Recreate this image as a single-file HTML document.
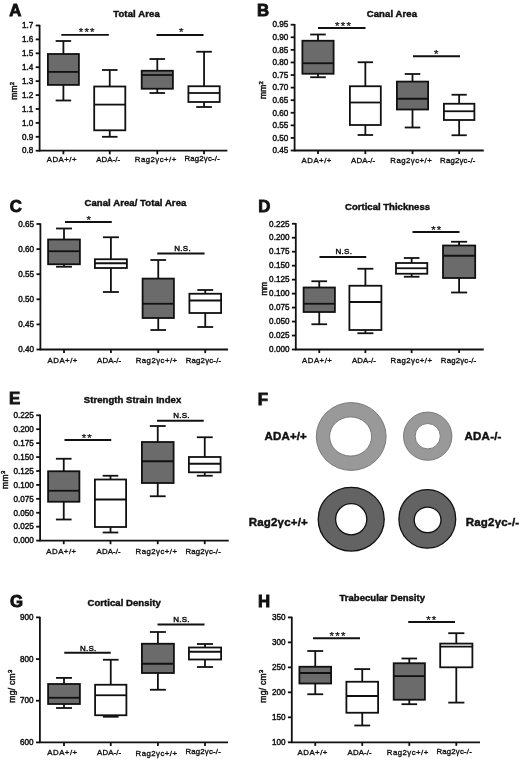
<!DOCTYPE html>
<html lang="en"><head><meta charset="utf-8"><title>Figure</title>
<style>
html,body{margin:0;padding:0;background:#fff;}
svg{display:block;filter:blur(0.4px);font-family:"Liberation Sans","DejaVu Sans",sans-serif;fill:#111;}
</style></head><body>
<svg width="520" height="761" viewBox="0 0 520 761">
<rect width="520" height="761" fill="#fff"/>
<line x1="39.60" y1="24.80" x2="39.60" y2="151.40" stroke="#111" stroke-width="1.8"/>
<line x1="38.90" y1="150.70" x2="227.40" y2="150.70" stroke="#111" stroke-width="1.8"/>
<line x1="35.70" y1="25.50" x2="39.60" y2="25.50" stroke="#111" stroke-width="1.8"/>
<text x="33.30" y="28.25" font-size="8.6" text-anchor="end" textLength="11.33" stroke="#111" stroke-width="0.45" lengthAdjust="spacingAndGlyphs">1.7</text>
<line x1="35.70" y1="39.41" x2="39.60" y2="39.41" stroke="#111" stroke-width="1.8"/>
<text x="33.30" y="42.16" font-size="8.6" text-anchor="end" textLength="11.33" stroke="#111" stroke-width="0.45" lengthAdjust="spacingAndGlyphs">1.6</text>
<line x1="35.70" y1="53.32" x2="39.60" y2="53.32" stroke="#111" stroke-width="1.8"/>
<text x="33.30" y="56.07" font-size="8.6" text-anchor="end" textLength="11.33" stroke="#111" stroke-width="0.45" lengthAdjust="spacingAndGlyphs">1.5</text>
<line x1="35.70" y1="67.23" x2="39.60" y2="67.23" stroke="#111" stroke-width="1.8"/>
<text x="33.30" y="69.98" font-size="8.6" text-anchor="end" textLength="11.33" stroke="#111" stroke-width="0.45" lengthAdjust="spacingAndGlyphs">1.4</text>
<line x1="35.70" y1="81.14" x2="39.60" y2="81.14" stroke="#111" stroke-width="1.8"/>
<text x="33.30" y="83.89" font-size="8.6" text-anchor="end" textLength="11.33" stroke="#111" stroke-width="0.45" lengthAdjust="spacingAndGlyphs">1.3</text>
<line x1="35.70" y1="95.06" x2="39.60" y2="95.06" stroke="#111" stroke-width="1.8"/>
<text x="33.30" y="97.81" font-size="8.6" text-anchor="end" textLength="11.33" stroke="#111" stroke-width="0.45" lengthAdjust="spacingAndGlyphs">1.2</text>
<line x1="35.70" y1="108.97" x2="39.60" y2="108.97" stroke="#111" stroke-width="1.8"/>
<text x="33.30" y="111.72" font-size="8.6" text-anchor="end" textLength="11.33" stroke="#111" stroke-width="0.45" lengthAdjust="spacingAndGlyphs">1.1</text>
<line x1="35.70" y1="122.88" x2="39.60" y2="122.88" stroke="#111" stroke-width="1.8"/>
<text x="33.30" y="125.63" font-size="8.6" text-anchor="end" textLength="11.33" stroke="#111" stroke-width="0.45" lengthAdjust="spacingAndGlyphs">1.0</text>
<line x1="35.70" y1="136.79" x2="39.60" y2="136.79" stroke="#111" stroke-width="1.8"/>
<text x="33.30" y="139.54" font-size="8.6" text-anchor="end" textLength="11.33" stroke="#111" stroke-width="0.45" lengthAdjust="spacingAndGlyphs">0.9</text>
<line x1="35.70" y1="150.70" x2="39.60" y2="150.70" stroke="#111" stroke-width="1.8"/>
<text x="33.30" y="153.45" font-size="8.6" text-anchor="end" textLength="11.33" stroke="#111" stroke-width="0.45" lengthAdjust="spacingAndGlyphs">0.8</text>
<text x="9.30" y="16.00" font-size="16.8" text-anchor="start" font-weight="bold" stroke="#111" stroke-width="0.9">A</text>
<text x="136.45" y="16.70" font-size="9.5" text-anchor="middle" font-weight="bold" textLength="46.5" lengthAdjust="spacing" stroke="#111" stroke-width="0.45">Total Area</text>
<line x1="63.40" y1="41.00" x2="63.40" y2="54.00" stroke="#111" stroke-width="1.8"/>
<line x1="63.40" y1="84.90" x2="63.40" y2="100.50" stroke="#111" stroke-width="1.8"/>
<line x1="55.65" y1="41.00" x2="71.15" y2="41.00" stroke="#111" stroke-width="1.8"/>
<line x1="55.65" y1="100.50" x2="71.15" y2="100.50" stroke="#111" stroke-width="1.8"/>
<rect x="47.90" y="54.00" width="31.00" height="30.90" fill="#6b6b6b" stroke="#111" stroke-width="1.8"/>
<line x1="47.90" y1="71.90" x2="78.90" y2="71.90" stroke="#111" stroke-width="1.8"/>
<line x1="63.40" y1="150.70" x2="63.40" y2="154.30" stroke="#111" stroke-width="1.8"/>
<line x1="109.75" y1="70.00" x2="109.75" y2="86.50" stroke="#111" stroke-width="1.8"/>
<line x1="109.75" y1="130.30" x2="109.75" y2="136.80" stroke="#111" stroke-width="1.8"/>
<line x1="101.97" y1="70.00" x2="117.53" y2="70.00" stroke="#111" stroke-width="1.8"/>
<line x1="101.97" y1="136.80" x2="117.53" y2="136.80" stroke="#111" stroke-width="1.8"/>
<rect x="94.20" y="86.50" width="31.10" height="43.80" fill="#fff" stroke="#111" stroke-width="1.8"/>
<line x1="94.20" y1="104.60" x2="125.30" y2="104.60" stroke="#111" stroke-width="1.8"/>
<line x1="109.75" y1="150.70" x2="109.75" y2="154.30" stroke="#111" stroke-width="1.8"/>
<line x1="157.30" y1="59.00" x2="157.30" y2="70.75" stroke="#111" stroke-width="1.8"/>
<line x1="157.30" y1="88.75" x2="157.30" y2="93.00" stroke="#111" stroke-width="1.8"/>
<line x1="149.50" y1="59.00" x2="165.10" y2="59.00" stroke="#111" stroke-width="1.8"/>
<line x1="149.50" y1="93.00" x2="165.10" y2="93.00" stroke="#111" stroke-width="1.8"/>
<rect x="141.70" y="70.75" width="31.20" height="18.00" fill="#6b6b6b" stroke="#111" stroke-width="1.8"/>
<line x1="141.70" y1="75.00" x2="172.90" y2="75.00" stroke="#111" stroke-width="1.8"/>
<line x1="157.30" y1="150.70" x2="157.30" y2="154.30" stroke="#111" stroke-width="1.8"/>
<line x1="204.05" y1="51.75" x2="204.05" y2="86.25" stroke="#111" stroke-width="1.8"/>
<line x1="204.05" y1="102.00" x2="204.05" y2="107.00" stroke="#111" stroke-width="1.8"/>
<line x1="196.23" y1="51.75" x2="211.88" y2="51.75" stroke="#111" stroke-width="1.8"/>
<line x1="196.23" y1="107.00" x2="211.88" y2="107.00" stroke="#111" stroke-width="1.8"/>
<rect x="188.40" y="86.25" width="31.30" height="15.75" fill="#fff" stroke="#111" stroke-width="1.8"/>
<line x1="188.40" y1="93.00" x2="219.70" y2="93.00" stroke="#111" stroke-width="1.8"/>
<line x1="204.05" y1="150.70" x2="204.05" y2="154.30" stroke="#111" stroke-width="1.8"/>
<line x1="61.30" y1="34.90" x2="108.90" y2="34.90" stroke="#111" stroke-width="1.9"/>
<text x="86.65" y="36.05" font-size="11.5" text-anchor="middle" textLength="15.9" lengthAdjust="spacing" stroke="#111" stroke-width="0.25">***</text>
<line x1="156.50" y1="35.00" x2="203.50" y2="35.00" stroke="#111" stroke-width="1.9"/>
<text x="181.25" y="36.20" font-size="11.5" text-anchor="middle" stroke="#111" stroke-width="0.25">*</text>
<text x="61.60" y="161.60" font-size="7.8" text-anchor="middle" textLength="29.8" lengthAdjust="spacing" stroke="#111" stroke-width="0.35">ADA+/+</text>
<text x="108.20" y="161.60" font-size="7.8" text-anchor="middle" textLength="24.0" lengthAdjust="spacing" stroke="#111" stroke-width="0.35">ADA-/-</text>
<text x="155.50" y="161.80" font-size="7.8" text-anchor="middle" textLength="41.4" lengthAdjust="spacing" stroke="#111" stroke-width="0.35">Rag2γc+/+</text>
<text x="202.10" y="161.20" font-size="7.8" text-anchor="middle" textLength="35.4" lengthAdjust="spacing" stroke="#111" stroke-width="0.35">Rag2γc-/-</text>
<text x="16.90" y="90.80" font-size="8.5" text-anchor="middle" transform="rotate(-90 16.90 90.80)" textLength="17.9" lengthAdjust="spacing" stroke="#111" stroke-width="0.45">mm<tspan font-size="6" dy="-3.2">2</tspan></text>
<line x1="294.60" y1="24.00" x2="294.60" y2="151.20" stroke="#111" stroke-width="1.8"/>
<line x1="293.90" y1="150.50" x2="483.75" y2="150.50" stroke="#111" stroke-width="1.8"/>
<line x1="290.70" y1="24.70" x2="294.60" y2="24.70" stroke="#111" stroke-width="1.8"/>
<text x="288.30" y="27.45" font-size="8.6" text-anchor="end" textLength="15.86" stroke="#111" stroke-width="0.45" lengthAdjust="spacingAndGlyphs">0.95</text>
<line x1="290.70" y1="37.28" x2="294.60" y2="37.28" stroke="#111" stroke-width="1.8"/>
<text x="288.30" y="40.03" font-size="8.6" text-anchor="end" textLength="15.86" stroke="#111" stroke-width="0.45" lengthAdjust="spacingAndGlyphs">0.90</text>
<line x1="290.70" y1="49.86" x2="294.60" y2="49.86" stroke="#111" stroke-width="1.8"/>
<text x="288.30" y="52.61" font-size="8.6" text-anchor="end" textLength="15.86" stroke="#111" stroke-width="0.45" lengthAdjust="spacingAndGlyphs">0.85</text>
<line x1="290.70" y1="62.44" x2="294.60" y2="62.44" stroke="#111" stroke-width="1.8"/>
<text x="288.30" y="65.19" font-size="8.6" text-anchor="end" textLength="15.86" stroke="#111" stroke-width="0.45" lengthAdjust="spacingAndGlyphs">0.80</text>
<line x1="290.70" y1="75.02" x2="294.60" y2="75.02" stroke="#111" stroke-width="1.8"/>
<text x="288.30" y="77.77" font-size="8.6" text-anchor="end" textLength="15.86" stroke="#111" stroke-width="0.45" lengthAdjust="spacingAndGlyphs">0.75</text>
<line x1="290.70" y1="87.60" x2="294.60" y2="87.60" stroke="#111" stroke-width="1.8"/>
<text x="288.30" y="90.35" font-size="8.6" text-anchor="end" textLength="15.86" stroke="#111" stroke-width="0.45" lengthAdjust="spacingAndGlyphs">0.70</text>
<line x1="290.70" y1="100.18" x2="294.60" y2="100.18" stroke="#111" stroke-width="1.8"/>
<text x="288.30" y="102.93" font-size="8.6" text-anchor="end" textLength="15.86" stroke="#111" stroke-width="0.45" lengthAdjust="spacingAndGlyphs">0.65</text>
<line x1="290.70" y1="112.76" x2="294.60" y2="112.76" stroke="#111" stroke-width="1.8"/>
<text x="288.30" y="115.51" font-size="8.6" text-anchor="end" textLength="15.86" stroke="#111" stroke-width="0.45" lengthAdjust="spacingAndGlyphs">0.60</text>
<line x1="290.70" y1="125.34" x2="294.60" y2="125.34" stroke="#111" stroke-width="1.8"/>
<text x="288.30" y="128.09" font-size="8.6" text-anchor="end" textLength="15.86" stroke="#111" stroke-width="0.45" lengthAdjust="spacingAndGlyphs">0.55</text>
<line x1="290.70" y1="137.92" x2="294.60" y2="137.92" stroke="#111" stroke-width="1.8"/>
<text x="288.30" y="140.67" font-size="8.6" text-anchor="end" textLength="15.86" stroke="#111" stroke-width="0.45" lengthAdjust="spacingAndGlyphs">0.50</text>
<line x1="290.70" y1="150.50" x2="294.60" y2="150.50" stroke="#111" stroke-width="1.8"/>
<text x="288.30" y="153.25" font-size="8.6" text-anchor="end" textLength="15.86" stroke="#111" stroke-width="0.45" lengthAdjust="spacingAndGlyphs">0.45</text>
<text x="256.90" y="16.20" font-size="16.8" text-anchor="start" font-weight="bold" stroke="#111" stroke-width="0.9">B</text>
<text x="391.90" y="17.40" font-size="9.5" text-anchor="middle" font-weight="bold" textLength="50.3" lengthAdjust="spacing" stroke="#111" stroke-width="0.45">Canal Area</text>
<line x1="318.00" y1="34.50" x2="318.00" y2="40.75" stroke="#111" stroke-width="1.8"/>
<line x1="318.00" y1="73.75" x2="318.00" y2="77.25" stroke="#111" stroke-width="1.8"/>
<line x1="310.20" y1="34.50" x2="325.80" y2="34.50" stroke="#111" stroke-width="1.8"/>
<line x1="310.20" y1="77.25" x2="325.80" y2="77.25" stroke="#111" stroke-width="1.8"/>
<rect x="302.40" y="40.75" width="31.20" height="33.00" fill="#6b6b6b" stroke="#111" stroke-width="1.8"/>
<line x1="302.40" y1="63.25" x2="333.60" y2="63.25" stroke="#111" stroke-width="1.8"/>
<line x1="318.00" y1="150.50" x2="318.00" y2="154.10" stroke="#111" stroke-width="1.8"/>
<line x1="365.35" y1="62.25" x2="365.35" y2="86.25" stroke="#111" stroke-width="1.8"/>
<line x1="365.35" y1="125.00" x2="365.35" y2="135.00" stroke="#111" stroke-width="1.8"/>
<line x1="357.62" y1="62.25" x2="373.08" y2="62.25" stroke="#111" stroke-width="1.8"/>
<line x1="357.62" y1="135.00" x2="373.08" y2="135.00" stroke="#111" stroke-width="1.8"/>
<rect x="349.90" y="86.25" width="30.90" height="38.75" fill="#fff" stroke="#111" stroke-width="1.8"/>
<line x1="349.90" y1="102.50" x2="380.80" y2="102.50" stroke="#111" stroke-width="1.8"/>
<line x1="365.35" y1="150.50" x2="365.35" y2="154.10" stroke="#111" stroke-width="1.8"/>
<line x1="412.50" y1="74.00" x2="412.50" y2="81.60" stroke="#111" stroke-width="1.8"/>
<line x1="412.50" y1="109.50" x2="412.50" y2="127.50" stroke="#111" stroke-width="1.8"/>
<line x1="404.70" y1="74.00" x2="420.30" y2="74.00" stroke="#111" stroke-width="1.8"/>
<line x1="404.70" y1="127.50" x2="420.30" y2="127.50" stroke="#111" stroke-width="1.8"/>
<rect x="396.90" y="81.60" width="31.20" height="27.90" fill="#6b6b6b" stroke="#111" stroke-width="1.8"/>
<line x1="396.90" y1="98.75" x2="428.10" y2="98.75" stroke="#111" stroke-width="1.8"/>
<line x1="412.50" y1="150.50" x2="412.50" y2="154.10" stroke="#111" stroke-width="1.8"/>
<line x1="459.15" y1="94.75" x2="459.15" y2="103.75" stroke="#111" stroke-width="1.8"/>
<line x1="459.15" y1="120.00" x2="459.15" y2="135.25" stroke="#111" stroke-width="1.8"/>
<line x1="451.52" y1="94.75" x2="466.77" y2="94.75" stroke="#111" stroke-width="1.8"/>
<line x1="451.52" y1="135.25" x2="466.77" y2="135.25" stroke="#111" stroke-width="1.8"/>
<rect x="443.90" y="103.75" width="30.50" height="16.25" fill="#fff" stroke="#111" stroke-width="1.8"/>
<line x1="443.90" y1="111.25" x2="474.40" y2="111.25" stroke="#111" stroke-width="1.8"/>
<line x1="459.15" y1="150.50" x2="459.15" y2="154.10" stroke="#111" stroke-width="1.8"/>
<line x1="318.00" y1="28.00" x2="365.50" y2="28.00" stroke="#111" stroke-width="1.9"/>
<text x="343.00" y="29.60" font-size="11.5" text-anchor="middle" textLength="15.9" lengthAdjust="spacing" stroke="#111" stroke-width="0.25">***</text>
<line x1="413.00" y1="56.25" x2="460.00" y2="56.25" stroke="#111" stroke-width="1.9"/>
<text x="436.25" y="57.70" font-size="11.5" text-anchor="middle" stroke="#111" stroke-width="0.25">*</text>
<text x="316.50" y="163.00" font-size="7.8" text-anchor="middle" textLength="29.8" lengthAdjust="spacing" stroke="#111" stroke-width="0.35">ADA+/+</text>
<text x="363.10" y="163.00" font-size="7.8" text-anchor="middle" textLength="24.0" lengthAdjust="spacing" stroke="#111" stroke-width="0.35">ADA-/-</text>
<text x="411.00" y="163.00" font-size="7.8" text-anchor="middle" textLength="41.4" lengthAdjust="spacing" stroke="#111" stroke-width="0.35">Rag2γc+/+</text>
<text x="457.75" y="163.00" font-size="7.8" text-anchor="middle" textLength="35.4" lengthAdjust="spacing" stroke="#111" stroke-width="0.35">Rag2γc-/-</text>
<text x="266.20" y="90.00" font-size="8.5" text-anchor="middle" transform="rotate(-90 266.20 90.00)" textLength="17.9" lengthAdjust="spacing" stroke="#111" stroke-width="0.45">mm<tspan font-size="6" dy="-3.2">2</tspan></text>
<line x1="40.40" y1="223.30" x2="40.40" y2="350.20" stroke="#111" stroke-width="1.8"/>
<line x1="39.70" y1="349.50" x2="228.00" y2="349.50" stroke="#111" stroke-width="1.8"/>
<line x1="36.50" y1="224.00" x2="40.40" y2="224.00" stroke="#111" stroke-width="1.8"/>
<text x="34.10" y="226.75" font-size="8.6" text-anchor="end" textLength="15.86" stroke="#111" stroke-width="0.45" lengthAdjust="spacingAndGlyphs">0.65</text>
<line x1="36.50" y1="249.10" x2="40.40" y2="249.10" stroke="#111" stroke-width="1.8"/>
<text x="34.10" y="251.85" font-size="8.6" text-anchor="end" textLength="15.86" stroke="#111" stroke-width="0.45" lengthAdjust="spacingAndGlyphs">0.60</text>
<line x1="36.50" y1="274.20" x2="40.40" y2="274.20" stroke="#111" stroke-width="1.8"/>
<text x="34.10" y="276.95" font-size="8.6" text-anchor="end" textLength="15.86" stroke="#111" stroke-width="0.45" lengthAdjust="spacingAndGlyphs">0.55</text>
<line x1="36.50" y1="299.30" x2="40.40" y2="299.30" stroke="#111" stroke-width="1.8"/>
<text x="34.10" y="302.05" font-size="8.6" text-anchor="end" textLength="15.86" stroke="#111" stroke-width="0.45" lengthAdjust="spacingAndGlyphs">0.50</text>
<line x1="36.50" y1="324.40" x2="40.40" y2="324.40" stroke="#111" stroke-width="1.8"/>
<text x="34.10" y="327.15" font-size="8.6" text-anchor="end" textLength="15.86" stroke="#111" stroke-width="0.45" lengthAdjust="spacingAndGlyphs">0.45</text>
<line x1="36.50" y1="349.50" x2="40.40" y2="349.50" stroke="#111" stroke-width="1.8"/>
<text x="34.10" y="352.25" font-size="8.6" text-anchor="end" textLength="15.86" stroke="#111" stroke-width="0.45" lengthAdjust="spacingAndGlyphs">0.40</text>
<text x="9.70" y="211.80" font-size="16.8" text-anchor="start" font-weight="bold" stroke="#111" stroke-width="0.9">C</text>
<text x="135.40" y="205.60" font-size="9.5" text-anchor="middle" font-weight="bold" textLength="101.8" lengthAdjust="spacing" stroke="#111" stroke-width="0.45">Canal Area/ Total Area</text>
<line x1="64.00" y1="228.50" x2="64.00" y2="239.50" stroke="#111" stroke-width="1.8"/>
<line x1="64.00" y1="264.25" x2="64.00" y2="266.75" stroke="#111" stroke-width="1.8"/>
<line x1="56.05" y1="228.50" x2="71.95" y2="228.50" stroke="#111" stroke-width="1.8"/>
<line x1="56.05" y1="266.75" x2="71.95" y2="266.75" stroke="#111" stroke-width="1.8"/>
<rect x="48.10" y="239.50" width="31.80" height="24.75" fill="#6b6b6b" stroke="#111" stroke-width="1.8"/>
<line x1="48.10" y1="251.25" x2="79.90" y2="251.25" stroke="#111" stroke-width="1.8"/>
<line x1="64.00" y1="349.50" x2="64.00" y2="353.10" stroke="#111" stroke-width="1.8"/>
<line x1="110.90" y1="237.25" x2="110.90" y2="259.25" stroke="#111" stroke-width="1.8"/>
<line x1="110.90" y1="268.00" x2="110.90" y2="292.00" stroke="#111" stroke-width="1.8"/>
<line x1="102.90" y1="237.25" x2="118.90" y2="237.25" stroke="#111" stroke-width="1.8"/>
<line x1="102.90" y1="292.00" x2="118.90" y2="292.00" stroke="#111" stroke-width="1.8"/>
<rect x="94.90" y="259.25" width="32.00" height="8.75" fill="#fff" stroke="#111" stroke-width="1.8"/>
<line x1="94.90" y1="263.25" x2="126.90" y2="263.25" stroke="#111" stroke-width="1.8"/>
<line x1="110.90" y1="349.50" x2="110.90" y2="353.10" stroke="#111" stroke-width="1.8"/>
<line x1="158.25" y1="260.00" x2="158.25" y2="278.60" stroke="#111" stroke-width="1.8"/>
<line x1="158.25" y1="318.00" x2="158.25" y2="330.00" stroke="#111" stroke-width="1.8"/>
<line x1="150.43" y1="260.00" x2="166.07" y2="260.00" stroke="#111" stroke-width="1.8"/>
<line x1="150.43" y1="330.00" x2="166.07" y2="330.00" stroke="#111" stroke-width="1.8"/>
<rect x="142.60" y="278.60" width="31.30" height="39.40" fill="#6b6b6b" stroke="#111" stroke-width="1.8"/>
<line x1="142.60" y1="303.75" x2="173.90" y2="303.75" stroke="#111" stroke-width="1.8"/>
<line x1="158.25" y1="349.50" x2="158.25" y2="353.10" stroke="#111" stroke-width="1.8"/>
<line x1="205.25" y1="290.00" x2="205.25" y2="293.75" stroke="#111" stroke-width="1.8"/>
<line x1="205.25" y1="313.00" x2="205.25" y2="327.00" stroke="#111" stroke-width="1.8"/>
<line x1="197.32" y1="290.00" x2="213.18" y2="290.00" stroke="#111" stroke-width="1.8"/>
<line x1="197.32" y1="327.00" x2="213.18" y2="327.00" stroke="#111" stroke-width="1.8"/>
<rect x="189.40" y="293.75" width="31.70" height="19.25" fill="#fff" stroke="#111" stroke-width="1.8"/>
<line x1="189.40" y1="300.50" x2="221.10" y2="300.50" stroke="#111" stroke-width="1.8"/>
<line x1="205.25" y1="349.50" x2="205.25" y2="353.10" stroke="#111" stroke-width="1.8"/>
<line x1="65.00" y1="222.00" x2="111.75" y2="222.00" stroke="#111" stroke-width="1.9"/>
<text x="88.75" y="223.50" font-size="11.5" text-anchor="middle" stroke="#111" stroke-width="0.25">*</text>
<line x1="157.30" y1="253.50" x2="204.60" y2="253.50" stroke="#111" stroke-width="1.9"/>
<text x="182.50" y="250.70" font-size="8" text-anchor="middle" textLength="16.4" lengthAdjust="spacing" stroke="#111" stroke-width="0.45">N.S.</text>
<text x="62.50" y="362.50" font-size="7.8" text-anchor="middle" textLength="29.8" lengthAdjust="spacing" stroke="#111" stroke-width="0.35">ADA+/+</text>
<text x="109.10" y="362.50" font-size="7.8" text-anchor="middle" textLength="24.0" lengthAdjust="spacing" stroke="#111" stroke-width="0.35">ADA-/-</text>
<text x="156.40" y="362.80" font-size="7.8" text-anchor="middle" textLength="41.4" lengthAdjust="spacing" stroke="#111" stroke-width="0.35">Rag2γc+/+</text>
<text x="203.40" y="362.50" font-size="7.8" text-anchor="middle" textLength="35.4" lengthAdjust="spacing" stroke="#111" stroke-width="0.35">Rag2γc-/-</text>
<line x1="295.80" y1="223.05" x2="295.80" y2="350.20" stroke="#111" stroke-width="1.8"/>
<line x1="295.10" y1="349.50" x2="483.75" y2="349.50" stroke="#111" stroke-width="1.8"/>
<line x1="291.90" y1="223.75" x2="295.80" y2="223.75" stroke="#111" stroke-width="1.8"/>
<text x="289.50" y="226.50" font-size="8.6" text-anchor="end" textLength="20.39" stroke="#111" stroke-width="0.45" lengthAdjust="spacingAndGlyphs">0.225</text>
<line x1="291.90" y1="237.72" x2="295.80" y2="237.72" stroke="#111" stroke-width="1.8"/>
<text x="289.50" y="240.47" font-size="8.6" text-anchor="end" textLength="20.39" stroke="#111" stroke-width="0.45" lengthAdjust="spacingAndGlyphs">0.200</text>
<line x1="291.90" y1="251.69" x2="295.80" y2="251.69" stroke="#111" stroke-width="1.8"/>
<text x="289.50" y="254.44" font-size="8.6" text-anchor="end" textLength="20.39" stroke="#111" stroke-width="0.45" lengthAdjust="spacingAndGlyphs">0.175</text>
<line x1="291.90" y1="265.67" x2="295.80" y2="265.67" stroke="#111" stroke-width="1.8"/>
<text x="289.50" y="268.42" font-size="8.6" text-anchor="end" textLength="20.39" stroke="#111" stroke-width="0.45" lengthAdjust="spacingAndGlyphs">0.150</text>
<line x1="291.90" y1="279.64" x2="295.80" y2="279.64" stroke="#111" stroke-width="1.8"/>
<text x="289.50" y="282.39" font-size="8.6" text-anchor="end" textLength="20.39" stroke="#111" stroke-width="0.45" lengthAdjust="spacingAndGlyphs">0.125</text>
<line x1="291.90" y1="293.61" x2="295.80" y2="293.61" stroke="#111" stroke-width="1.8"/>
<text x="289.50" y="296.36" font-size="8.6" text-anchor="end" textLength="20.39" stroke="#111" stroke-width="0.45" lengthAdjust="spacingAndGlyphs">0.100</text>
<line x1="291.90" y1="307.58" x2="295.80" y2="307.58" stroke="#111" stroke-width="1.8"/>
<text x="289.50" y="310.33" font-size="8.6" text-anchor="end" textLength="20.39" stroke="#111" stroke-width="0.45" lengthAdjust="spacingAndGlyphs">0.075</text>
<line x1="291.90" y1="321.56" x2="295.80" y2="321.56" stroke="#111" stroke-width="1.8"/>
<text x="289.50" y="324.31" font-size="8.6" text-anchor="end" textLength="20.39" stroke="#111" stroke-width="0.45" lengthAdjust="spacingAndGlyphs">0.050</text>
<line x1="291.90" y1="335.53" x2="295.80" y2="335.53" stroke="#111" stroke-width="1.8"/>
<text x="289.50" y="338.28" font-size="8.6" text-anchor="end" textLength="20.39" stroke="#111" stroke-width="0.45" lengthAdjust="spacingAndGlyphs">0.025</text>
<line x1="291.90" y1="349.50" x2="295.80" y2="349.50" stroke="#111" stroke-width="1.8"/>
<text x="289.50" y="352.25" font-size="8.6" text-anchor="end" textLength="20.39" stroke="#111" stroke-width="0.45" lengthAdjust="spacingAndGlyphs">0.000</text>
<text x="258.20" y="212.00" font-size="16.8" text-anchor="start" font-weight="bold" stroke="#111" stroke-width="0.9">D</text>
<text x="387.50" y="210.00" font-size="9.5" text-anchor="middle" font-weight="bold" textLength="85" lengthAdjust="spacing" stroke="#111" stroke-width="0.45">Cortical Thickness</text>
<line x1="319.25" y1="281.25" x2="319.25" y2="287.50" stroke="#111" stroke-width="1.8"/>
<line x1="319.25" y1="312.00" x2="319.25" y2="324.25" stroke="#111" stroke-width="1.8"/>
<line x1="311.43" y1="281.25" x2="327.07" y2="281.25" stroke="#111" stroke-width="1.8"/>
<line x1="311.43" y1="324.25" x2="327.07" y2="324.25" stroke="#111" stroke-width="1.8"/>
<rect x="303.60" y="287.50" width="31.30" height="24.50" fill="#6b6b6b" stroke="#111" stroke-width="1.8"/>
<line x1="303.60" y1="303.75" x2="334.90" y2="303.75" stroke="#111" stroke-width="1.8"/>
<line x1="319.25" y1="349.50" x2="319.25" y2="353.10" stroke="#111" stroke-width="1.8"/>
<line x1="365.40" y1="268.75" x2="365.40" y2="285.75" stroke="#111" stroke-width="1.8"/>
<line x1="365.40" y1="330.00" x2="365.40" y2="333.25" stroke="#111" stroke-width="1.8"/>
<line x1="357.40" y1="268.75" x2="373.40" y2="268.75" stroke="#111" stroke-width="1.8"/>
<line x1="357.40" y1="333.25" x2="373.40" y2="333.25" stroke="#111" stroke-width="1.8"/>
<rect x="349.40" y="285.75" width="32.00" height="44.25" fill="#fff" stroke="#111" stroke-width="1.8"/>
<line x1="349.40" y1="302.00" x2="381.40" y2="302.00" stroke="#111" stroke-width="1.8"/>
<line x1="365.40" y1="349.50" x2="365.40" y2="353.10" stroke="#111" stroke-width="1.8"/>
<line x1="411.65" y1="258.00" x2="411.65" y2="263.00" stroke="#111" stroke-width="1.8"/>
<line x1="411.65" y1="273.75" x2="411.65" y2="276.75" stroke="#111" stroke-width="1.8"/>
<line x1="403.82" y1="258.00" x2="419.47" y2="258.00" stroke="#111" stroke-width="1.8"/>
<line x1="403.82" y1="276.75" x2="419.47" y2="276.75" stroke="#111" stroke-width="1.8"/>
<rect x="396.00" y="263.00" width="31.30" height="10.75" fill="#fff" stroke="#111" stroke-width="1.8"/>
<line x1="396.00" y1="268.25" x2="427.30" y2="268.25" stroke="#111" stroke-width="1.8"/>
<line x1="411.65" y1="349.50" x2="411.65" y2="353.10" stroke="#111" stroke-width="1.8"/>
<line x1="459.10" y1="241.75" x2="459.10" y2="245.50" stroke="#111" stroke-width="1.8"/>
<line x1="459.10" y1="278.00" x2="459.10" y2="292.50" stroke="#111" stroke-width="1.8"/>
<line x1="451.05" y1="241.75" x2="467.15" y2="241.75" stroke="#111" stroke-width="1.8"/>
<line x1="451.05" y1="292.50" x2="467.15" y2="292.50" stroke="#111" stroke-width="1.8"/>
<rect x="443.00" y="245.50" width="32.20" height="32.50" fill="#6b6b6b" stroke="#111" stroke-width="1.8"/>
<line x1="443.00" y1="255.75" x2="475.20" y2="255.75" stroke="#111" stroke-width="1.8"/>
<line x1="459.10" y1="349.50" x2="459.10" y2="353.10" stroke="#111" stroke-width="1.8"/>
<line x1="319.50" y1="257.00" x2="366.25" y2="257.00" stroke="#111" stroke-width="1.9"/>
<text x="343.75" y="254.30" font-size="8" text-anchor="middle" textLength="16.4" lengthAdjust="spacing" stroke="#111" stroke-width="0.45">N.S.</text>
<line x1="412.50" y1="232.00" x2="459.50" y2="232.00" stroke="#111" stroke-width="1.9"/>
<text x="436.25" y="233.90" font-size="11.5" text-anchor="middle" textLength="10.2" lengthAdjust="spacing" stroke="#111" stroke-width="0.25">**</text>
<text x="317.00" y="363.00" font-size="7.8" text-anchor="middle" textLength="29.8" lengthAdjust="spacing" stroke="#111" stroke-width="0.35">ADA+/+</text>
<text x="363.90" y="363.00" font-size="7.8" text-anchor="middle" textLength="24.0" lengthAdjust="spacing" stroke="#111" stroke-width="0.35">ADA-/-</text>
<text x="411.25" y="363.00" font-size="7.8" text-anchor="middle" textLength="41.4" lengthAdjust="spacing" stroke="#111" stroke-width="0.35">Rag2γc+/+</text>
<text x="458.50" y="363.00" font-size="7.8" text-anchor="middle" textLength="35.4" lengthAdjust="spacing" stroke="#111" stroke-width="0.35">Rag2γc-/-</text>
<text x="267.20" y="288.70" font-size="8.5" text-anchor="middle" transform="rotate(-90 267.20 288.70)" textLength="13.5" lengthAdjust="spacing" stroke="#111" stroke-width="0.45">mm</text>
<line x1="40.10" y1="414.60" x2="40.10" y2="541.30" stroke="#111" stroke-width="1.8"/>
<line x1="39.40" y1="540.60" x2="228.75" y2="540.60" stroke="#111" stroke-width="1.8"/>
<line x1="36.20" y1="415.30" x2="40.10" y2="415.30" stroke="#111" stroke-width="1.8"/>
<text x="33.80" y="418.05" font-size="8.6" text-anchor="end" textLength="20.39" stroke="#111" stroke-width="0.45" lengthAdjust="spacingAndGlyphs">0.225</text>
<line x1="36.20" y1="429.22" x2="40.10" y2="429.22" stroke="#111" stroke-width="1.8"/>
<text x="33.80" y="431.97" font-size="8.6" text-anchor="end" textLength="20.39" stroke="#111" stroke-width="0.45" lengthAdjust="spacingAndGlyphs">0.200</text>
<line x1="36.20" y1="443.14" x2="40.10" y2="443.14" stroke="#111" stroke-width="1.8"/>
<text x="33.80" y="445.89" font-size="8.6" text-anchor="end" textLength="20.39" stroke="#111" stroke-width="0.45" lengthAdjust="spacingAndGlyphs">0.175</text>
<line x1="36.20" y1="457.07" x2="40.10" y2="457.07" stroke="#111" stroke-width="1.8"/>
<text x="33.80" y="459.82" font-size="8.6" text-anchor="end" textLength="20.39" stroke="#111" stroke-width="0.45" lengthAdjust="spacingAndGlyphs">0.150</text>
<line x1="36.20" y1="470.99" x2="40.10" y2="470.99" stroke="#111" stroke-width="1.8"/>
<text x="33.80" y="473.74" font-size="8.6" text-anchor="end" textLength="20.39" stroke="#111" stroke-width="0.45" lengthAdjust="spacingAndGlyphs">0.125</text>
<line x1="36.20" y1="484.91" x2="40.10" y2="484.91" stroke="#111" stroke-width="1.8"/>
<text x="33.80" y="487.66" font-size="8.6" text-anchor="end" textLength="20.39" stroke="#111" stroke-width="0.45" lengthAdjust="spacingAndGlyphs">0.100</text>
<line x1="36.20" y1="498.83" x2="40.10" y2="498.83" stroke="#111" stroke-width="1.8"/>
<text x="33.80" y="501.58" font-size="8.6" text-anchor="end" textLength="20.39" stroke="#111" stroke-width="0.45" lengthAdjust="spacingAndGlyphs">0.075</text>
<line x1="36.20" y1="512.76" x2="40.10" y2="512.76" stroke="#111" stroke-width="1.8"/>
<text x="33.80" y="515.51" font-size="8.6" text-anchor="end" textLength="20.39" stroke="#111" stroke-width="0.45" lengthAdjust="spacingAndGlyphs">0.050</text>
<line x1="36.20" y1="526.68" x2="40.10" y2="526.68" stroke="#111" stroke-width="1.8"/>
<text x="33.80" y="529.43" font-size="8.6" text-anchor="end" textLength="20.39" stroke="#111" stroke-width="0.45" lengthAdjust="spacingAndGlyphs">0.025</text>
<line x1="36.20" y1="540.60" x2="40.10" y2="540.60" stroke="#111" stroke-width="1.8"/>
<text x="33.80" y="543.35" font-size="8.6" text-anchor="end" textLength="20.39" stroke="#111" stroke-width="0.45" lengthAdjust="spacingAndGlyphs">0.000</text>
<text x="9.00" y="404.00" font-size="16.8" text-anchor="start" font-weight="bold" stroke="#111" stroke-width="0.9">E</text>
<text x="132.50" y="403.25" font-size="9.5" text-anchor="middle" font-weight="bold" textLength="97.5" lengthAdjust="spacing" stroke="#111" stroke-width="0.45">Strength Strain Index</text>
<line x1="63.75" y1="458.75" x2="63.75" y2="471.25" stroke="#111" stroke-width="1.8"/>
<line x1="63.75" y1="501.75" x2="63.75" y2="519.50" stroke="#111" stroke-width="1.8"/>
<line x1="55.92" y1="458.75" x2="71.58" y2="458.75" stroke="#111" stroke-width="1.8"/>
<line x1="55.92" y1="519.50" x2="71.58" y2="519.50" stroke="#111" stroke-width="1.8"/>
<rect x="48.10" y="471.25" width="31.30" height="30.50" fill="#6b6b6b" stroke="#111" stroke-width="1.8"/>
<line x1="48.10" y1="490.75" x2="79.40" y2="490.75" stroke="#111" stroke-width="1.8"/>
<line x1="63.75" y1="540.60" x2="63.75" y2="544.20" stroke="#111" stroke-width="1.8"/>
<line x1="110.50" y1="475.75" x2="110.50" y2="479.50" stroke="#111" stroke-width="1.8"/>
<line x1="110.50" y1="527.00" x2="110.50" y2="532.50" stroke="#111" stroke-width="1.8"/>
<line x1="102.70" y1="475.75" x2="118.30" y2="475.75" stroke="#111" stroke-width="1.8"/>
<line x1="102.70" y1="532.50" x2="118.30" y2="532.50" stroke="#111" stroke-width="1.8"/>
<rect x="94.90" y="479.50" width="31.20" height="47.50" fill="#fff" stroke="#111" stroke-width="1.8"/>
<line x1="94.90" y1="499.50" x2="126.10" y2="499.50" stroke="#111" stroke-width="1.8"/>
<line x1="110.50" y1="540.60" x2="110.50" y2="544.20" stroke="#111" stroke-width="1.8"/>
<line x1="157.75" y1="426.00" x2="157.75" y2="442.00" stroke="#111" stroke-width="1.8"/>
<line x1="157.75" y1="483.00" x2="157.75" y2="496.25" stroke="#111" stroke-width="1.8"/>
<line x1="149.82" y1="426.00" x2="165.68" y2="426.00" stroke="#111" stroke-width="1.8"/>
<line x1="149.82" y1="496.25" x2="165.68" y2="496.25" stroke="#111" stroke-width="1.8"/>
<rect x="141.90" y="442.00" width="31.70" height="41.00" fill="#6b6b6b" stroke="#111" stroke-width="1.8"/>
<line x1="141.90" y1="461.25" x2="173.60" y2="461.25" stroke="#111" stroke-width="1.8"/>
<line x1="157.75" y1="540.60" x2="157.75" y2="544.20" stroke="#111" stroke-width="1.8"/>
<line x1="204.75" y1="437.25" x2="204.75" y2="457.00" stroke="#111" stroke-width="1.8"/>
<line x1="204.75" y1="472.30" x2="204.75" y2="475.75" stroke="#111" stroke-width="1.8"/>
<line x1="196.82" y1="437.25" x2="212.68" y2="437.25" stroke="#111" stroke-width="1.8"/>
<line x1="196.82" y1="475.75" x2="212.68" y2="475.75" stroke="#111" stroke-width="1.8"/>
<rect x="188.90" y="457.00" width="31.70" height="15.30" fill="#fff" stroke="#111" stroke-width="1.8"/>
<line x1="188.90" y1="463.75" x2="220.60" y2="463.75" stroke="#111" stroke-width="1.8"/>
<line x1="204.75" y1="540.60" x2="204.75" y2="544.20" stroke="#111" stroke-width="1.8"/>
<line x1="64.50" y1="440.00" x2="111.25" y2="440.00" stroke="#111" stroke-width="1.9"/>
<text x="86.75" y="441.50" font-size="11.5" text-anchor="middle" textLength="10.2" lengthAdjust="spacing" stroke="#111" stroke-width="0.25">**</text>
<line x1="157.00" y1="420.75" x2="203.75" y2="420.75" stroke="#111" stroke-width="1.9"/>
<text x="181.40" y="417.60" font-size="8" text-anchor="middle" textLength="16.4" lengthAdjust="spacing" stroke="#111" stroke-width="0.45">N.S.</text>
<text x="61.25" y="553.75" font-size="7.8" text-anchor="middle" textLength="29.8" lengthAdjust="spacing" stroke="#111" stroke-width="0.35">ADA+/+</text>
<text x="108.60" y="553.75" font-size="7.8" text-anchor="middle" textLength="24.0" lengthAdjust="spacing" stroke="#111" stroke-width="0.35">ADA-/-</text>
<text x="156.25" y="554.10" font-size="7.8" text-anchor="middle" textLength="41.4" lengthAdjust="spacing" stroke="#111" stroke-width="0.35">Rag2γc+/+</text>
<text x="203.10" y="553.75" font-size="7.8" text-anchor="middle" textLength="35.4" lengthAdjust="spacing" stroke="#111" stroke-width="0.35">Rag2γc-/-</text>
<text x="8.20" y="479.80" font-size="8.5" text-anchor="middle" transform="rotate(-90 8.20 479.80)" textLength="18.4" lengthAdjust="spacing" stroke="#111" stroke-width="0.45">mm<tspan font-size="6" dy="-3.2">3</tspan></text>
<line x1="39.90" y1="616.70" x2="39.90" y2="743.10" stroke="#111" stroke-width="1.8"/>
<line x1="39.20" y1="742.40" x2="228.00" y2="742.40" stroke="#111" stroke-width="1.8"/>
<line x1="36.00" y1="617.40" x2="39.90" y2="617.40" stroke="#111" stroke-width="1.8"/>
<text x="33.60" y="620.15" font-size="8.6" text-anchor="end" textLength="13.59" stroke="#111" stroke-width="0.45" lengthAdjust="spacingAndGlyphs">900</text>
<line x1="36.00" y1="659.07" x2="39.90" y2="659.07" stroke="#111" stroke-width="1.8"/>
<text x="33.60" y="661.82" font-size="8.6" text-anchor="end" textLength="13.59" stroke="#111" stroke-width="0.45" lengthAdjust="spacingAndGlyphs">800</text>
<line x1="36.00" y1="700.73" x2="39.90" y2="700.73" stroke="#111" stroke-width="1.8"/>
<text x="33.60" y="703.48" font-size="8.6" text-anchor="end" textLength="13.59" stroke="#111" stroke-width="0.45" lengthAdjust="spacingAndGlyphs">700</text>
<line x1="36.00" y1="742.40" x2="39.90" y2="742.40" stroke="#111" stroke-width="1.8"/>
<text x="33.60" y="745.15" font-size="8.6" text-anchor="end" textLength="13.59" stroke="#111" stroke-width="0.45" lengthAdjust="spacingAndGlyphs">600</text>
<text x="9.90" y="607.30" font-size="16.8" text-anchor="start" font-weight="bold" stroke="#111" stroke-width="0.9">G</text>
<text x="124.10" y="606.25" font-size="9.5" text-anchor="middle" font-weight="bold" textLength="73.3" lengthAdjust="spacing" stroke="#111" stroke-width="0.45">Cortical Density</text>
<line x1="64.00" y1="677.90" x2="64.00" y2="684.00" stroke="#111" stroke-width="1.8"/>
<line x1="64.00" y1="704.00" x2="64.00" y2="708.00" stroke="#111" stroke-width="1.8"/>
<line x1="56.05" y1="677.90" x2="71.95" y2="677.90" stroke="#111" stroke-width="1.8"/>
<line x1="56.05" y1="708.00" x2="71.95" y2="708.00" stroke="#111" stroke-width="1.8"/>
<rect x="48.10" y="684.00" width="31.80" height="20.00" fill="#6b6b6b" stroke="#111" stroke-width="1.8"/>
<line x1="48.10" y1="697.75" x2="79.90" y2="697.75" stroke="#111" stroke-width="1.8"/>
<line x1="64.00" y1="742.40" x2="64.00" y2="746.00" stroke="#111" stroke-width="1.8"/>
<line x1="110.75" y1="659.75" x2="110.75" y2="684.75" stroke="#111" stroke-width="1.8"/>
<line x1="110.75" y1="715.25" x2="110.75" y2="716.75" stroke="#111" stroke-width="1.8"/>
<line x1="102.92" y1="659.75" x2="118.58" y2="659.75" stroke="#111" stroke-width="1.8"/>
<line x1="102.92" y1="716.75" x2="118.58" y2="716.75" stroke="#111" stroke-width="1.8"/>
<rect x="95.10" y="684.75" width="31.30" height="30.50" fill="#fff" stroke="#111" stroke-width="1.8"/>
<line x1="95.10" y1="695.25" x2="126.40" y2="695.25" stroke="#111" stroke-width="1.8"/>
<line x1="110.75" y1="742.40" x2="110.75" y2="746.00" stroke="#111" stroke-width="1.8"/>
<line x1="157.90" y1="632.00" x2="157.90" y2="643.75" stroke="#111" stroke-width="1.8"/>
<line x1="157.90" y1="673.00" x2="157.90" y2="689.75" stroke="#111" stroke-width="1.8"/>
<line x1="149.90" y1="632.00" x2="165.90" y2="632.00" stroke="#111" stroke-width="1.8"/>
<line x1="149.90" y1="689.75" x2="165.90" y2="689.75" stroke="#111" stroke-width="1.8"/>
<rect x="141.90" y="643.75" width="32.00" height="29.25" fill="#6b6b6b" stroke="#111" stroke-width="1.8"/>
<line x1="141.90" y1="663.75" x2="173.90" y2="663.75" stroke="#111" stroke-width="1.8"/>
<line x1="157.90" y1="742.40" x2="157.90" y2="746.00" stroke="#111" stroke-width="1.8"/>
<line x1="205.00" y1="644.00" x2="205.00" y2="647.50" stroke="#111" stroke-width="1.8"/>
<line x1="205.00" y1="659.50" x2="205.00" y2="667.00" stroke="#111" stroke-width="1.8"/>
<line x1="196.95" y1="644.00" x2="213.05" y2="644.00" stroke="#111" stroke-width="1.8"/>
<line x1="196.95" y1="667.00" x2="213.05" y2="667.00" stroke="#111" stroke-width="1.8"/>
<rect x="188.90" y="647.50" width="32.20" height="12.00" fill="#fff" stroke="#111" stroke-width="1.8"/>
<line x1="188.90" y1="651.75" x2="221.10" y2="651.75" stroke="#111" stroke-width="1.8"/>
<line x1="205.00" y1="742.40" x2="205.00" y2="746.00" stroke="#111" stroke-width="1.8"/>
<line x1="64.25" y1="652.75" x2="110.75" y2="652.75" stroke="#111" stroke-width="1.9"/>
<text x="88.10" y="650.50" font-size="8" text-anchor="middle" textLength="16.4" lengthAdjust="spacing" stroke="#111" stroke-width="0.45">N.S.</text>
<line x1="157.50" y1="624.50" x2="204.50" y2="624.50" stroke="#111" stroke-width="1.9"/>
<text x="181.40" y="621.75" font-size="8" text-anchor="middle" textLength="16.4" lengthAdjust="spacing" stroke="#111" stroke-width="0.45">N.S.</text>
<text x="62.25" y="755.40" font-size="7.8" text-anchor="middle" textLength="29.8" lengthAdjust="spacing" stroke="#111" stroke-width="0.35">ADA+/+</text>
<text x="109.10" y="755.40" font-size="7.8" text-anchor="middle" textLength="24.0" lengthAdjust="spacing" stroke="#111" stroke-width="0.35">ADA-/-</text>
<text x="156.25" y="755.50" font-size="7.8" text-anchor="middle" textLength="41.4" lengthAdjust="spacing" stroke="#111" stroke-width="0.35">Rag2γc+/+</text>
<text x="203.10" y="754.30" font-size="7.8" text-anchor="middle" textLength="35.4" lengthAdjust="spacing" stroke="#111" stroke-width="0.35">Rag2γc-/-</text>
<text x="15.30" y="686.20" font-size="8.5" text-anchor="middle" transform="rotate(-90 15.30 686.20)" textLength="33" lengthAdjust="spacing" stroke="#111" stroke-width="0.45">mg/ cm<tspan font-size="6" dy="-3.2">3</tspan></text>
<line x1="291.80" y1="616.70" x2="291.80" y2="743.00" stroke="#111" stroke-width="1.8"/>
<line x1="291.10" y1="742.30" x2="480.00" y2="742.30" stroke="#111" stroke-width="1.8"/>
<line x1="287.90" y1="617.40" x2="291.80" y2="617.40" stroke="#111" stroke-width="1.8"/>
<text x="285.50" y="620.15" font-size="8.6" text-anchor="end" textLength="13.59" stroke="#111" stroke-width="0.45" lengthAdjust="spacingAndGlyphs">350</text>
<line x1="287.90" y1="642.38" x2="291.80" y2="642.38" stroke="#111" stroke-width="1.8"/>
<text x="285.50" y="645.13" font-size="8.6" text-anchor="end" textLength="13.59" stroke="#111" stroke-width="0.45" lengthAdjust="spacingAndGlyphs">300</text>
<line x1="287.90" y1="667.36" x2="291.80" y2="667.36" stroke="#111" stroke-width="1.8"/>
<text x="285.50" y="670.11" font-size="8.6" text-anchor="end" textLength="13.59" stroke="#111" stroke-width="0.45" lengthAdjust="spacingAndGlyphs">250</text>
<line x1="287.90" y1="692.34" x2="291.80" y2="692.34" stroke="#111" stroke-width="1.8"/>
<text x="285.50" y="695.09" font-size="8.6" text-anchor="end" textLength="13.59" stroke="#111" stroke-width="0.45" lengthAdjust="spacingAndGlyphs">200</text>
<line x1="287.90" y1="717.32" x2="291.80" y2="717.32" stroke="#111" stroke-width="1.8"/>
<text x="285.50" y="720.07" font-size="8.6" text-anchor="end" textLength="13.59" stroke="#111" stroke-width="0.45" lengthAdjust="spacingAndGlyphs">150</text>
<line x1="287.90" y1="742.30" x2="291.80" y2="742.30" stroke="#111" stroke-width="1.8"/>
<text x="285.50" y="745.05" font-size="8.6" text-anchor="end" textLength="13.59" stroke="#111" stroke-width="0.45" lengthAdjust="spacingAndGlyphs">100</text>
<text x="258.00" y="607.30" font-size="16.8" text-anchor="start" font-weight="bold" stroke="#111" stroke-width="0.9">H</text>
<text x="382.25" y="601.25" font-size="9.5" text-anchor="middle" font-weight="bold" textLength="85.5" lengthAdjust="spacing" stroke="#111" stroke-width="0.45">Trabecular Density</text>
<line x1="315.25" y1="651.00" x2="315.25" y2="666.75" stroke="#111" stroke-width="1.8"/>
<line x1="315.25" y1="683.50" x2="315.25" y2="694.25" stroke="#111" stroke-width="1.8"/>
<line x1="307.32" y1="651.00" x2="323.18" y2="651.00" stroke="#111" stroke-width="1.8"/>
<line x1="307.32" y1="694.25" x2="323.18" y2="694.25" stroke="#111" stroke-width="1.8"/>
<rect x="299.40" y="666.75" width="31.70" height="16.75" fill="#6b6b6b" stroke="#111" stroke-width="1.8"/>
<line x1="299.40" y1="673.00" x2="331.10" y2="673.00" stroke="#111" stroke-width="1.8"/>
<line x1="315.25" y1="742.30" x2="315.25" y2="745.90" stroke="#111" stroke-width="1.8"/>
<line x1="362.25" y1="669.10" x2="362.25" y2="681.75" stroke="#111" stroke-width="1.8"/>
<line x1="362.25" y1="712.75" x2="362.25" y2="725.50" stroke="#111" stroke-width="1.8"/>
<line x1="354.32" y1="669.10" x2="370.18" y2="669.10" stroke="#111" stroke-width="1.8"/>
<line x1="354.32" y1="725.50" x2="370.18" y2="725.50" stroke="#111" stroke-width="1.8"/>
<rect x="346.40" y="681.75" width="31.70" height="31.00" fill="#fff" stroke="#111" stroke-width="1.8"/>
<line x1="346.40" y1="696.00" x2="378.10" y2="696.00" stroke="#111" stroke-width="1.8"/>
<line x1="362.25" y1="742.30" x2="362.25" y2="745.90" stroke="#111" stroke-width="1.8"/>
<line x1="409.30" y1="658.50" x2="409.30" y2="663.25" stroke="#111" stroke-width="1.8"/>
<line x1="409.30" y1="699.75" x2="409.30" y2="704.20" stroke="#111" stroke-width="1.8"/>
<line x1="401.50" y1="658.50" x2="417.10" y2="658.50" stroke="#111" stroke-width="1.8"/>
<line x1="401.50" y1="704.20" x2="417.10" y2="704.20" stroke="#111" stroke-width="1.8"/>
<rect x="393.70" y="663.25" width="31.20" height="36.50" fill="#6b6b6b" stroke="#111" stroke-width="1.8"/>
<line x1="393.70" y1="676.10" x2="424.90" y2="676.10" stroke="#111" stroke-width="1.8"/>
<line x1="409.30" y1="742.30" x2="409.30" y2="745.90" stroke="#111" stroke-width="1.8"/>
<line x1="456.30" y1="633.20" x2="456.30" y2="643.60" stroke="#111" stroke-width="1.8"/>
<line x1="456.30" y1="667.30" x2="456.30" y2="702.60" stroke="#111" stroke-width="1.8"/>
<line x1="448.25" y1="633.20" x2="464.35" y2="633.20" stroke="#111" stroke-width="1.8"/>
<line x1="448.25" y1="702.60" x2="464.35" y2="702.60" stroke="#111" stroke-width="1.8"/>
<rect x="440.20" y="643.60" width="32.20" height="23.70" fill="#fff" stroke="#111" stroke-width="1.8"/>
<line x1="440.20" y1="646.70" x2="472.40" y2="646.70" stroke="#111" stroke-width="1.8"/>
<line x1="456.30" y1="742.30" x2="456.30" y2="745.90" stroke="#111" stroke-width="1.8"/>
<line x1="313.00" y1="638.25" x2="360.00" y2="638.25" stroke="#111" stroke-width="1.9"/>
<text x="337.50" y="640.15" font-size="11.5" text-anchor="middle" textLength="15.9" lengthAdjust="spacing" stroke="#111" stroke-width="0.25">***</text>
<line x1="408.25" y1="622.00" x2="455.00" y2="622.00" stroke="#111" stroke-width="1.9"/>
<text x="431.25" y="623.50" font-size="11.5" text-anchor="middle" textLength="10.2" lengthAdjust="spacing" stroke="#111" stroke-width="0.25">**</text>
<text x="312.50" y="755.30" font-size="7.8" text-anchor="middle" textLength="29.8" lengthAdjust="spacing" stroke="#111" stroke-width="0.35">ADA+/+</text>
<text x="359.60" y="755.30" font-size="7.8" text-anchor="middle" textLength="24.0" lengthAdjust="spacing" stroke="#111" stroke-width="0.35">ADA-/-</text>
<text x="407.50" y="755.30" font-size="7.8" text-anchor="middle" textLength="41.4" lengthAdjust="spacing" stroke="#111" stroke-width="0.35">Rag2γc+/+</text>
<text x="454.10" y="754.30" font-size="7.8" text-anchor="middle" textLength="35.4" lengthAdjust="spacing" stroke="#111" stroke-width="0.35">Rag2γc-/-</text>
<text x="266.30" y="686.20" font-size="8.5" text-anchor="middle" transform="rotate(-90 266.30 686.20)" textLength="33" lengthAdjust="spacing" stroke="#111" stroke-width="0.45">mg/ cm<tspan font-size="6" dy="-3.2">3</tspan></text>
<text x="257.70" y="405.00" font-size="16.8" text-anchor="start" font-weight="bold" stroke="#111" stroke-width="0.9">F</text>
<ellipse cx="351.2" cy="436.5" rx="34.9" ry="33.9" fill="#999999" stroke="#7a7a7a" stroke-width="1.0"/>
<ellipse cx="350.6" cy="436.5" rx="21.0" ry="19.6" fill="#fff" stroke="#7a7a7a" stroke-width="1.0"/>
<ellipse cx="427.7" cy="436.2" rx="24.2" ry="24.1" fill="#999999" stroke="#7a7a7a" stroke-width="1.0"/>
<ellipse cx="427.7" cy="436.2" rx="12.6" ry="12.7" fill="#fff" stroke="#7a7a7a" stroke-width="1.0"/>
<ellipse cx="351.2" cy="519.2" rx="33.0" ry="31.9" fill="#636363" stroke="#111" stroke-width="1.3"/>
<ellipse cx="351.2" cy="519.2" rx="15.6" ry="15.6" fill="#fff" stroke="#111" stroke-width="1.3"/>
<ellipse cx="427.3" cy="518.9" rx="28.4" ry="29.3" fill="#636363" stroke="#111" stroke-width="1.3"/>
<ellipse cx="427.6" cy="519.9" rx="13.4" ry="12.8" fill="#fff" stroke="#111" stroke-width="1.3"/>
<text x="285.70" y="439.70" font-size="11.5" text-anchor="middle" font-weight="bold" textLength="42.2" lengthAdjust="spacing" stroke="#111" stroke-width="0.45">ADA+/+</text>
<text x="483.00" y="439.70" font-size="11.5" text-anchor="middle" font-weight="bold" textLength="36.9" lengthAdjust="spacing" stroke="#111" stroke-width="0.45">ADA-/-</text>
<text x="278.20" y="525.60" font-size="11.5" text-anchor="middle" font-weight="bold" textLength="59.1" lengthAdjust="spacing" stroke="#111" stroke-width="0.45">Rag2γc+/+</text>
<text x="492.40" y="525.80" font-size="11.5" text-anchor="middle" font-weight="bold" textLength="53.5" lengthAdjust="spacing" stroke="#111" stroke-width="0.45">Rag2γc-/-</text>
</svg>
</body></html>
